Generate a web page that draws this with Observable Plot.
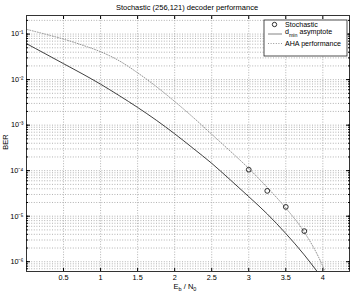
<!DOCTYPE html>
<html><head><meta charset="utf-8">
<script src="https://cdn.jsdelivr.net/npm/d3@7"></script>
<script src="https://cdn.jsdelivr.net/npm/@observablehq/plot@0.6"></script>
<style>body{margin:0;background:#fff} svg{display:block}</style>
</head><body><div id="chart"></div>
<script>
const title = "Stochastic (256,121) decoder performance";
const xLabel = ["E", "b", " / N", "0"];
const yLabel = "BER";
const legendLabels = ["Stochastic", "d", "min", " asymptote", "AHA performance"];
const xTicks = [0.5, 1, 1.5, 2, 2.5, 3, 3.5, 4];
const yDecades = [1e-6, 1e-5, 1e-4, 1e-3, 1e-2, 1e-1];
const yTickLabels = ["10⁻⁶", "10⁻⁵", "10⁻⁴", "10⁻³", "10⁻²", "10⁻¹"];
const xDomain = [0, 4.36];
const yDomain = [6.1e-7, 0.256];

// Stochastic decoder (circles)
const stochEbN0 = [3.0, 3.25, 3.5, 3.75];
const stochBER = [1.05e-4, 3.6e-5, 1.6e-5, 4.7e-6];

// d_min asymptote (solid)
const asymEbN0 = [0, 0.25, 0.5, 0.75, 1.0, 1.25, 1.5, 1.75, 2.0, 2.25, 2.5, 2.75, 3.0, 3.25, 3.5, 3.75, 3.92];
const asymBER = [6.17e-2, 3.72e-2, 2.24e-2, 1.35e-2, 7.94e-3, 4.47e-3, 2.45e-3, 1.29e-3, 6.46e-4, 3.09e-4, 1.45e-4, 6.3e-5, 2.69e-5, 1.12e-5, 4.17e-6, 1.41e-6, 6.2e-7];

// AHA performance (dotted)
const ahaEbN0 = [0.01, 0.25, 0.5, 0.75, 1.0, 1.25, 1.5, 1.75, 2.0, 2.25, 2.5, 2.75, 3.0, 3.25, 3.5, 3.75, 4.0, 4.05];
const ahaBER = [1.26e-1, 1.0e-1, 7.76e-2, 5.75e-2, 4.1e-2, 2.6e-2, 1.41e-2, 7.08e-3, 3.31e-3, 1.48e-3, 6.3e-4, 2.69e-4, 1.12e-4, 4.27e-5, 1.51e-5, 4.47e-6, 7.9e-7, 5.0e-7];

const stoch = stochEbN0.map((x, i) => ({x, y: stochBER[i]}));
const asym = asymEbN0.map((x, i) => ({x, y: asymBER[i]}));
const aha = ahaEbN0.map((x, i) => ({x, y: ahaBER[i]}));

const yMinor = [];
for (let k = -7; k <= -1; k++) for (let m = 1; m <= 9; m++) {
  const v = m * Math.pow(10, k);
  if (v >= yDomain[0] && v <= yDomain[1]) yMinor.push(v);
}
const gridStyle = {stroke: "#a0a0a0", strokeDasharray: "1,1.6", strokeWidth: 0.8};
const blank = () => "";
const decadeLabel = d => {
  const i = yDecades.findIndex(v => Math.abs(Math.log10(v) - Math.log10(d)) < 1e-6);
  return i >= 0 ? yTickLabels[i] : "";
};

const plot = Plot.plot({
  width: 353, height: 294,
  marginLeft: 26, marginRight: 4, marginTop: 15, marginBottom: 23,
  style: {fontFamily: "'Liberation Sans', Arial, sans-serif", fontSize: "7.3px", background: "#fff", color: "#000"},
  x: {domain: xDomain},
  y: {type: "log", domain: yDomain},
  marks: [
    Plot.ruleX(xTicks, gridStyle),
    Plot.ruleY(yMinor, gridStyle),
    Plot.line(aha, {x: "x", y: "y", curve: "monotone-x", stroke: "#8a8a8a", strokeDasharray: "1,1.6", strokeWidth: 0.9, clip: true}),
    Plot.line(asym, {x: "x", y: "y", curve: "monotone-x", stroke: "#2a2a2a", strokeWidth: 0.9, clip: true}),
    Plot.dot(stoch, {x: "x", y: "y", r: 2.4, stroke: "#000", strokeWidth: 0.8, fill: "none"}),
    Plot.frame({stroke: "#333", strokeWidth: 1}),
    Plot.axisX({ticks: xTicks, tickSize: -3, tickPadding: 6, label: null, tickFormat: d => String(d)}),
    Plot.axisX({anchor: "top", ticks: xTicks, tickSize: -3, label: null, tickFormat: blank}),
    Plot.axisY({ticks: yDecades, tickSize: -4, tickPadding: 7, label: null, tickFormat: decadeLabel}),
    Plot.axisY({ticks: yMinor, tickSize: -2, label: null, tickFormat: blank}),
    Plot.axisY({anchor: "right", ticks: yDecades, tickSize: -4, label: null, tickFormat: blank}),
    Plot.axisY({anchor: "right", ticks: yMinor, tickSize: -2, label: null, tickFormat: blank})
  ]
});
document.getElementById("chart").appendChild(plot);

const svg = d3.select(plot);
const font = "'Liberation Sans', Arial, sans-serif";
// Title
svg.append("text").attr("x", 187).attr("y", 10).attr("text-anchor", "middle")
  .attr("font-family", font).attr("font-size", 7.5).text(title);
// X label
const xl = svg.append("text").attr("x", 185).attr("y", 289).attr("text-anchor", "middle")
  .attr("font-family", font).attr("font-size", 7.5);
xl.append("tspan").text(xLabel[0]);
xl.append("tspan").attr("font-size", 5.5).attr("dy", 2).text(xLabel[1]);
xl.append("tspan").attr("dy", -2).text(xLabel[2]);
xl.append("tspan").attr("font-size", 5.5).attr("dy", 2).text(xLabel[3]);
// Y label
svg.append("text").attr("transform", "translate(8,142) rotate(-90)").attr("text-anchor", "middle")
  .attr("font-family", font).attr("font-size", 7.5).text(yLabel);
// Legend
const lg = svg.append("g").attr("font-family", font).attr("font-size", 7.1).attr("text-anchor", "start");
lg.append("rect").attr("x", 264).attr("y", 20).attr("width", 83).attr("height", 36)
  .attr("fill", "#fff").attr("stroke", "#222").attr("stroke-width", 0.8);
lg.append("circle").attr("cx", 274.5).attr("cy", 24.5).attr("r", 2.2).attr("fill", "none").attr("stroke", "#000").attr("stroke-width", 0.8);
lg.append("text").attr("x", 285).attr("y", 27).attr("text-anchor", "start").text(legendLabels[0]);
lg.append("line").attr("x1", 268).attr("x2", 282).attr("y1", 34).attr("y2", 34).attr("stroke", "#777").attr("stroke-width", 0.9);
const dt = lg.append("text").attr("x", 285).attr("y", 34).attr("text-anchor", "start");
dt.append("tspan").text(legendLabels[1]);
dt.append("tspan").attr("font-size", 5.3).attr("dy", 2.5).text(legendLabels[2]);
dt.append("tspan").attr("dy", -2.5).text(legendLabels[3]);
lg.append("line").attr("x1", 268).attr("x2", 282).attr("y1", 43.5).attr("y2", 43.5).attr("stroke", "#8a8a8a").attr("stroke-dasharray", "1,1.6").attr("stroke-width", 0.9);
lg.append("text").attr("x", 285).attr("y", 45.5).attr("text-anchor", "start").text(legendLabels[4]);
</script></body></html>
